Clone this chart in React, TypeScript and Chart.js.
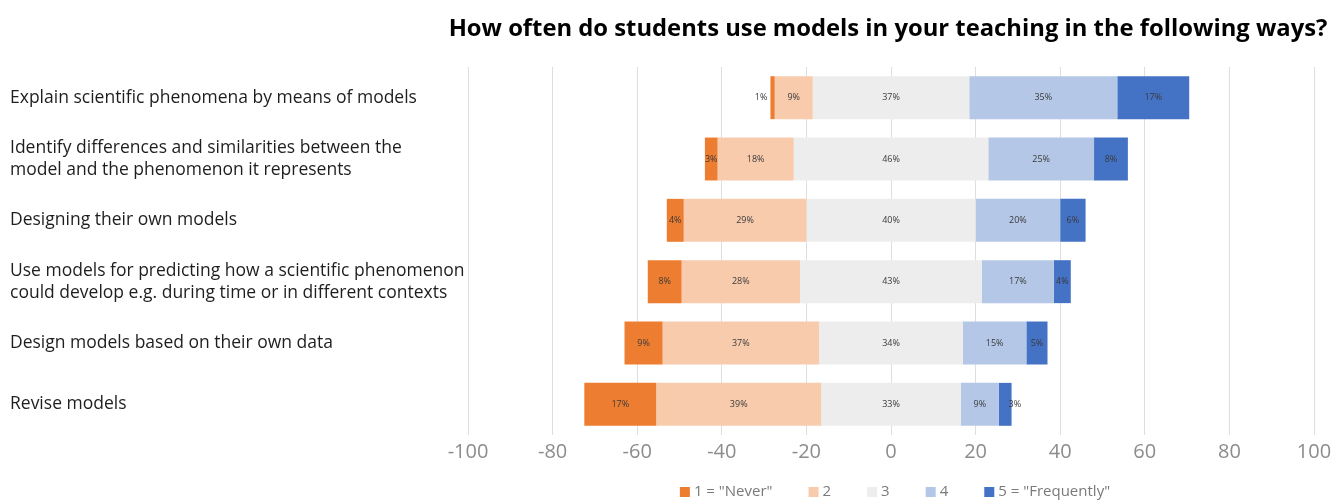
import React, { useEffect, useRef } from "react";
import { Chart, registerables } from "chart.js";

Chart.register(...registerables);

const categories: string[][] = [
  ["Explain scientific phenomena by means of models"],
  ["Identify differences and similarities between the", "model and the phenomenon it represents"],
  ["Designing their own models"],
  ["Use models for predicting how a scientific phenomenon", "could develop e.g. during time or in different contexts"],
  ["Design models based on their own data"],
  ["Revise models"],
];

const never = [1, 3, 4, 8, 9, 17];
const two = [9, 18, 29, 28, 37, 39];
const three = [37, 46, 40, 43, 34, 33];
const four = [35, 25, 20, 17, 15, 9];
const frequently = [17, 8, 6, 4, 5, 3];

const seriesNames = ['1 = "Never"', "2", "3", "4", '5 = "Frequently"'];
const seriesColors = ["#ED7D31", "#F8CBAD", "#EDEDED", "#B4C7E7", "#4472C4"];

const xMin = -100;
const xMax = 100;
const xStep = 20;

const title = "How often do students use models in your teaching in the following ways?";

const FONT = "'Open Sans', 'DejaVu Sans', sans-serif";

export default function App() {
  const ref = useRef<HTMLCanvasElement | null>(null);

  useEffect(() => {
    document.body.style.margin = "0";
    document.body.style.overflow = "hidden";
    const canvas = ref.current;
    if (!canvas) return;

    const series = [never, two, three, four, frequently];
    const ranges: [number, number][][] = series.map(() => []);
    categories.forEach((_, i) => {
      let pos = -(never[i] + two[i] + three[i] / 2);
      series.forEach((s, k) => {
        ranges[k].push([pos, pos + s[i]]);
        pos += s[i];
      });
    });

    const labelsPlugin = {
      id: "segLabels",
      afterDatasetsDraw(chart: any) {
        const ctx = chart.ctx;
        ctx.save();
        ctx.font = `9px ${FONT}`;
        ctx.fillStyle = "#3a3a3a";
        ctx.textBaseline = "middle";
        chart.data.datasets.forEach((ds: any, k: number) => {
          const meta = chart.getDatasetMeta(k);
          meta.data.forEach((bar: any, i: number) => {
            const v = series[k][i];
            const txt = `${v}%`;
            const a = Math.min(bar.x, bar.base);
            const b = Math.max(bar.x, bar.base);
            if (k === 0 && v < 2) {
              ctx.textAlign = "right";
              ctx.fillText(txt, a - 3, bar.y);
            } else if (k === series.length - 1 && v <= 3) {
              ctx.textAlign = "left";
              ctx.fillText(txt, b - 3, bar.y);
            } else {
              ctx.textAlign = "center";
              ctx.fillText(txt, (a + b) / 2, bar.y);
            }
          });
        });
        ctx.restore();
      },
    };

    const decorPlugin = {
      id: "decor",
      afterDraw(chart: any) {
        const ctx = chart.ctx;
        ctx.save();
        // title
        ctx.font = `bold 23.8px ${FONT}`;
        ctx.fillStyle = "#000000";
        ctx.textAlign = "center";
        ctx.textBaseline = "middle";
        ctx.fillText(title, 888, 29);
        // legend
        ctx.font = `15px ${FONT}`;
        const box = 10;
        const gapText = 4;
        const gapItem = 36;
        const widths = seriesNames.map((n) => box + gapText + ctx.measureText(n).width);
        const total = widths.reduce((a, b) => a + b, 0) + gapItem * (widths.length - 1);
        let x = 895 - total / 2;
        const y = 492;
        ctx.textAlign = "left";
        seriesNames.forEach((n, k) => {
          ctx.fillStyle = seriesColors[k];
          ctx.fillRect(x, y - box / 2, box, box);
          ctx.fillStyle = "#7a7a7a";
          ctx.fillText(n, x + box + gapText, y);
          x += widths[k] + gapItem;
        });
        ctx.restore();
      },
    };

    const chart = new Chart(canvas, {
      type: "bar",
      data: {
        labels: categories,
        datasets: seriesNames.map((name, k) => ({
          label: name,
          data: ranges[k] as any,
          backgroundColor: seriesColors[k],
          borderWidth: 0,
          borderSkipped: false,
          grouped: false,
          categoryPercentage: 0.7,
          barPercentage: 1,
        })),
      },
      options: {
        indexAxis: "y",
        responsive: false,
        animation: false,
        devicePixelRatio: 1,
        layout: { padding: { left: 10, right: 28, top: 67, bottom: 35 } },
        plugins: {
          legend: { display: false },
          title: { display: false },
          tooltip: { enabled: false },
        },
        scales: {
          x: {
            min: xMin,
            max: xMax,
            ticks: {
              stepSize: xStep,
              font: { family: FONT, size: 20 },
              color: "#8c8c8c",
              padding: 5,
            },
            grid: { color: "#dedede", drawTicks: false },
            border: { display: false },
            afterFit: (s: any) => {
              s.height = 30;
            },
          },
          y: {
            ticks: {
              crossAlign: "far",
              font: { family: FONT, size: 17.5, lineHeight: 1.26 },
              color: "#1e1e1e",
            },
            grid: { display: false },
            border: { display: false },
            afterFit: (s: any) => {
              s.width = 458;
            },
          },
        },
      },
      plugins: [labelsPlugin, decorPlugin],
    });

    return () => chart.destroy();
  }, []);

  return (
    <div style={{ width: 1342, height: 500 }}>
      <canvas ref={ref} width={1342} height={500} style={{ display: "block" }} />
    </div>
  );
}
